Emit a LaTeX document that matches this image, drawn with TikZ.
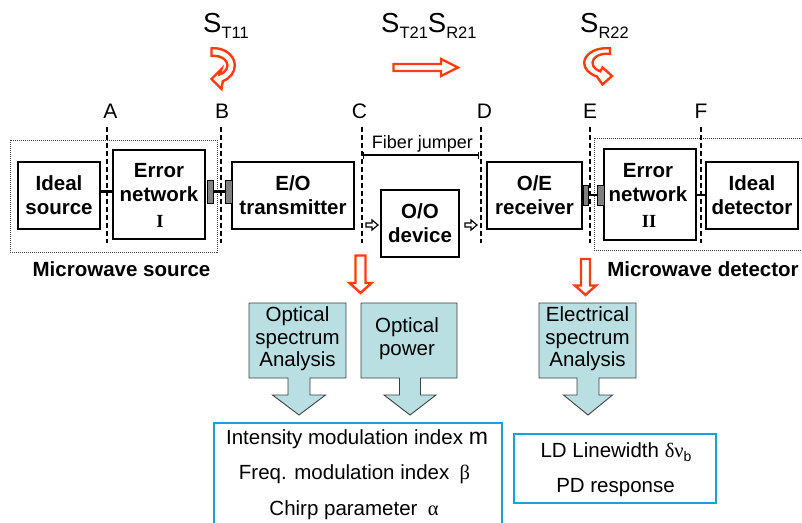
\documentclass[tikz,border=0pt]{standalone}
\usepackage{fontspec}
\setmainfont{Liberation Sans}
\newfontfamily\serifgreek{Liberation Serif}
\usetikzlibrary{arrows.meta}

\definecolor{hollowred}{RGB}{255,60,15}
\definecolor{tealfill}{RGB}{185,223,226}
\definecolor{tealedge}{RGB}{64,64,64}
\definecolor{parblue}{RGB}{28,160,210}
\definecolor{portgray}{RGB}{128,128,128}

\newcommand\blkfont{\fontsize{20.5}{24}\selectfont\bfseries}
\newcommand\txtfont{\fontsize{20.5}{22.5}\selectfont}
\newcommand\romnum[1]{{\serifgreek\fontsize{18.5}{18.5}\selectfont\bfseries #1}}
\newcommand\sparam[1]{{\fontsize{27.5}{30}\selectfont S}\raisebox{-6.5pt}{\fontsize{16.5}{18}\selectfont #1}}
% block arrow pointing down: left, right, centre x, stem half width, head half width
\newcommand\calloutdown[5]{\draw[tealarrow] (#1,303) -- (#2,303) -- (#2,378) -- ({#3+#4},378) -- ({#3+#4},395) -- ({#3+#5},395) -- (#3,415) -- ({#3-#5},395) -- ({#3-#4},395) -- ({#3-#4},378) -- (#1,378) -- cycle;}

\begin{document}
\begin{tikzpicture}[x=1pt,y=-1pt,
  block/.style={draw, line width=2.4pt, inner sep=0pt, align=center, font=\blkfont},
  blocktext/.style={inner sep=0pt, align=center, font=\blkfont},
  port/.style={draw, fill=portgray, line width=0.8pt, inner sep=0pt, minimum width=6.5pt, minimum height=23pt},
  wire/.style={line width=2.4pt},
  refline/.style={line width=1.3pt, dash pattern=on 5pt off 3pt},
  reflabel/.style={anchor=base, inner sep=0pt, font=\fontsize{21}{24}\selectfont},
  enclosure/.style={draw=black!75, line width=0.7pt, dash pattern=on 1pt off 1pt, inner sep=0pt},
  redarrow/.style={draw=hollowred, fill=white, line width=2.4pt, line join=miter},
  smallarrow/.style={draw, fill=white, line width=1.2pt, line join=miter},
  tealarrow/.style={draw=tealedge, fill=tealfill, line width=0.9pt},
  tealtext/.style={align=center, inner sep=0pt, font=\txtfont},
  parambox/.style={draw=parblue, line width=2pt, inner sep=0pt},
  partext/.style={anchor=base, inner sep=0pt, font=\fontsize{20.5}{24}\selectfont},
]
\useasboundingbox (0,0) rectangle (802,522);
\clip (0,0) rectangle (802,522);
\fill[white] (0,0) rectangle (802,522);

% scattering parameter labels
\node[anchor=base west, inner sep=0pt] (s11) at (203,32) {\sparam{T11}};
\node[anchor=base west, inner sep=0pt] (s21) at (381,32) {\sparam{T21}\sparam{R21}};
\node[anchor=base west, inner sep=0pt] (s22) at (580,32) {\sparam{R22}};

% reflection / transmission arrows
\draw[redarrow] (211.5,48.2) -- (214,48.2) arc[start angle=-90, end angle=65, x radius=20.8, y radius=17.3]
  -- (221.5,89) -- (211.5,79) -- (221.5,69) -- (219.7,74.3)
  arc[start angle=65, end angle=-90, x radius=13.5, y radius=9.7] -- (211.5,55.8) -- cycle;
\draw[redarrow] (393.5,64) -- (441,64) -- (441,59) -- (458,67.5) -- (441,76) -- (441,71) -- (393.5,71) -- cycle;
\draw[redarrow] (610,48.2) -- (606,48.2) arc[start angle=-90, end angle=-245, x radius=21.8, y radius=14.8]
  -- (602.5,84.5) -- (612,76) -- (602.5,67.5) -- (600.3,71.3)
  arc[start angle=-245, end angle=-90, x radius=13.5, y radius=9.2] -- (610,53.8) -- cycle;

% enclosures
\node[enclosure, minimum width=207pt, minimum height=112pt] (msrc) at (113.5,196) {};
\node[enclosure, minimum width=212pt, minimum height=112pt, anchor=north west] (mdet) at (594,138) {};
\node[anchor=base, font=\blkfont, inner sep=0pt] (msrclab) at (121.5,276) {Microwave source};
\node[anchor=base, font=\blkfont, inner sep=0pt] (mdetlab) at (703,276) {Microwave detector};

% reference planes
\foreach \n/\x/\lx in {A/107/110.5, B/221/222, C/362/359.5, D/481/484.5, E/590/590, F/701/701}{
  \node[reflabel] (lab\n) at (\lx,118) {\n};
  \coordinate (\n top) at (\x,127);
  \coordinate (\n bot) at (\x,243);
  \draw[refline] (\n top) -- (\n bot);
}

% blocks
\node[block, minimum width=82pt, minimum height=67pt] (src) at (59,195.5) {Ideal\\source};
\node[block, minimum width=92pt, minimum height=89pt] (errI) at (159,194.5) {};
\node[blocktext] (errIname) at (159,182.6) {Error\\network};
\node[anchor=base, inner sep=0pt] (errInum) at (160,227.5) {\romnum{I}};
\node[block, minimum width=122pt, minimum height=67pt] (eo) at (293,195.5) {E/O\\transmitter};
\node[block, minimum width=78pt, minimum height=67pt] (oo) at (420,223.5) {O/O\\device};
\node[block, minimum width=95pt, minimum height=67pt] (oe) at (534.5,195.5) {O/E\\receiver};
\node[block, minimum width=92pt, minimum height=91pt] (errII) at (650,194.5) {};
\node[blocktext] (errIIname) at (648,182.6) {Error\\network};
\node[anchor=base, inner sep=0pt] (errIInum) at (649,227.5) {\romnum{II}};
\node[block, minimum width=92pt, minimum height=67pt] (det) at (752,195.5) {Ideal\\detector};

% connectors and ports
\node[port, minimum width=6pt] (p1) at (210,191.5) {};
\node[port, minimum width=7pt] (p2) at (228.5,191.5) {};
\node[port, minimum width=5pt, minimum height=20pt] (p3) at (585.5,195) {};
\node[port, minimum width=7pt, minimum height=20pt] (p4) at (600.5,195) {};
\draw[wire] (src.east |- p1) -- (errI.west |- p1);
\draw[wire] (p1) -- (p2);
\draw[wire] (p3) -- (p4);
\draw[wire] (errII.east |- p4) -- (det.west |- p4);

% fiber jumper span
\coordinate (fjL) at (363,155);
\coordinate (fjR) at (479,155);
\draw[line width=1.3pt, {Bar[width=7pt]}-{Bar[width=7pt]}] (fjL) -- (fjR);
\node[anchor=base, inner sep=0pt, font=\fontsize{18}{20}\selectfont] (fjlab) at (422.5,148) {Fiber jumper};

% optical signal direction
\draw[smallarrow, shift={(366,225)}] (0,-2) -- (6,-2) -- (6,-5) -- (12,0) -- (6,5) -- (6,2) -- (0,2) -- cycle;
\draw[smallarrow, shift={(465,225)}] (0,-2) -- (6,-2) -- (6,-5) -- (12,0) -- (6,5) -- (6,2) -- (0,2) -- cycle;

% measurement taps
\draw[redarrow] (355.5,255.5) -- (365.5,255.5) -- (365.5,283) -- (371.5,283) -- (360.5,293) -- (349.5,283) -- (355.5,283) -- cycle;
\draw[redarrow] (581,259) -- (590,259) -- (590,285.5) -- (596,285.5) -- (585.5,295) -- (575,285.5) -- (581,285.5) -- cycle;

% analysis callouts
\calloutdown{249}{346}{299}{11}{26.5}
\calloutdown{361}{457}{410}{10.5}{26}
\calloutdown{539}{636}{588}{11}{24.5}
\node[tealtext] (osa) at (297.5,339) {Optical\\spectrum\\Analysis};
\node[tealtext] (opw) at (407,338.5) {Optical\\power};
\node[tealtext] (esa) at (587.5,339) {Electrical\\spectrum\\Analysis};

% extracted parameters
\node[parambox, minimum width=288pt, minimum height=120pt, anchor=north west] (optpar) at (213,422) {};
\node[partext] (pm) at (357,444) {Intensity modulation index {\fontsize{23}{24}\selectfont m}};
\node[partext] (pb) at (354.5,479) {Freq. modulation index\enspace{\serifgreek β}};
\node[partext] (pa) at (354,515) {Chirp parameter\enspace{\serifgreek α}};
\node[parambox, minimum width=202pt, minimum height=69pt] (elpar) at (615,468.5) {};
\node[partext] (lw) at (616,457) {LD Linewidth {\serifgreek δν}\raisebox{-4pt}{\fontsize{14}{14}\selectfont b}};
\node[partext] (pd) at (615.5,492) {PD response};
\end{tikzpicture}
\end{document}
